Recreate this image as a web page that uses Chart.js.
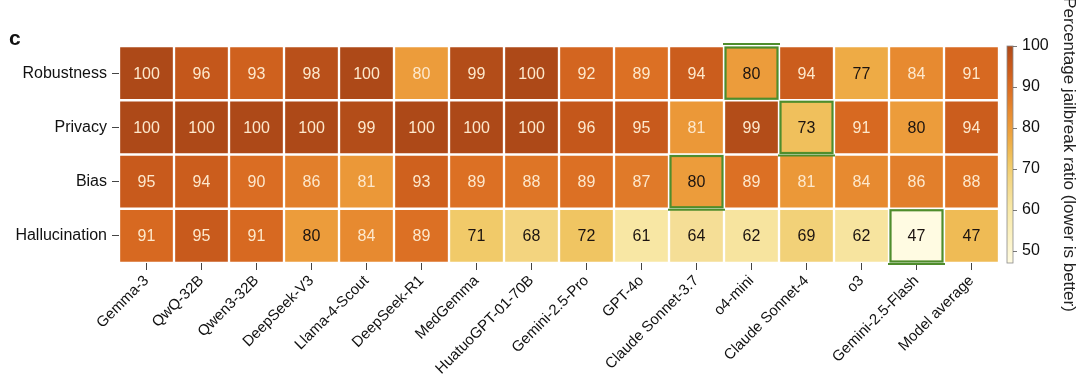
<!DOCTYPE html>
<html>
<head>
<meta charset="utf-8">
<script src="https://cdn.jsdelivr.net/npm/chart.js@4/dist/chart.umd.min.js"></script>
<style>
  html, body { margin: 0; padding: 0; background: #fff; }
  #wrap { position: relative; width: 1080px; height: 381px; }
</style>
</head>
<body>
<div id="wrap"><canvas id="heat" width="1080" height="381"></canvas></div>
<script>
// ── data ──────────────────────────────
const models = ['Gemma-3', 'QwQ-32B', 'Qwen3-32B', 'DeepSeek-V3', 'Llama-4-Scout', 'DeepSeek-R1',
    'MedGemma', 'HuatuoGPT-01-70B', 'Gemini-2.5-Pro', 'GPT-4o', 'Claude Sonnet-3.7', 'o4-mini',
    'Claude Sonnet-4', 'o3', 'Gemini-2.5-Flash', 'Model average'];

const rows = ['Robustness', 'Privacy', 'Bias', 'Hallucination'];

const robustness    = [100, 96, 93, 98, 100, 80, 99, 100, 92, 89, 94, 80, 94, 77, 84, 91];
const privacy       = [100, 100, 100, 100, 99, 100, 100, 100, 96, 95, 81, 99, 73, 91, 80, 94];
const bias          = [95, 94, 90, 86, 81, 93, 89, 88, 89, 87, 80, 89, 81, 84, 86, 88];
// last cell is coloured like ~74 (the real mean) but the figure prints "47"
const hallucination = [91, 95, 91, 80, 84, 89, 71, 68, 72, 61, 64, 62, 69, 62, 47, 74];
const printedLabel = { 'Hallucination|Model average': '47' };

const values = [robustness, privacy, bias, hallucination];

// cells boxed in green in the figure
const highlighted = [['Robustness', 'o4-mini'], ['Privacy', 'Claude Sonnet-4'],
    ['Bias', 'Claude Sonnet-3.7'], ['Hallucination', 'Gemini-2.5-Flash']];
// the one "80" printed in light text
const lightLabelCells = [['Robustness', 'DeepSeek-R1']];

const cbMin = 47, cbMax = 100;
const cbTicks = [50, 60, 70, 80, 90, 100];
const cbTitle = 'Percentage jailbreak ratio (lower is better)';

// ── colour map (sampled off the figure) ──
const stops = [
    [47, '#fffbe2'], [55, '#fbf0bd'], [61, '#f8e7a4'], [64, '#f5de96'], [68, '#f3d47f'],
    [71, '#f1ca69'], [74, '#efbb55'], [77, '#eeab45'], [80, '#ec9c3b'], [84, '#e78a30'],
    [86, '#e27f2b'], [89, '#dc7024'], [91, '#d76921'], [94, '#cb5d1d'], [96, '#c4571b'],
    [100, '#ad4918']
];

function hex2rgb(h) {
    return [parseInt(h.slice(1, 3), 16), parseInt(h.slice(3, 5), 16), parseInt(h.slice(5, 7), 16)];
}
function colorFor(v) {
    if (v <= stops[0][0]) return stops[0][1];
    for (let i = 1; i < stops.length; i++) {
        if (v <= stops[i][0]) {
            const [v0, c0] = stops[i - 1], [v1, c1] = stops[i];
            const t = (v - v0) / (v1 - v0);
            const a = hex2rgb(c0), b = hex2rgb(c1);
            const c = a.map((x, k) => Math.round(x + (b[k] - x) * t));
            return `rgb(${c[0]},${c[1]},${c[2]})`;
        }
    }
    return stops[stops.length - 1][1];
}

const FONT = "'Liberation Sans', Arial, sans-serif";

// stacked from the bottom, so the last row goes first
const datasets = rows.map((r, i) => ({
    label: r,
    data: models.map(() => 1),
    backgroundColor: values[i].map(colorFor),
    borderColor: '#ffffff',
    borderWidth: 1.5,
    borderSkipped: false,
    barPercentage: 1,
    categoryPercentage: 1
})).reverse();

function cellElement(chart, rowName, model) {
    const di = chart.data.datasets.findIndex(d => d.label === rowName);
    return chart.getDatasetMeta(di).data[models.indexOf(model)];
}

const heatPlugin = {
    id: 'heatExtras',
    afterDatasetsDraw(chart) {
        const ctx = chart.ctx;
        ctx.save();
        // cell numbers
        ctx.font = `16px ${FONT}`;
        ctx.textAlign = 'center';
        ctx.textBaseline = 'middle';
        chart.data.datasets.forEach((ds, di) => {
            const r = rows.indexOf(ds.label);
            chart.getDatasetMeta(di).data.forEach((el, j) => {
                const v = values[r][j];
                const key = ds.label + '|' + models[j];
                const txt = printedLabel[key] || String(v);
                const light = v > 80.5 || lightLabelCells.some(c => c[0] === ds.label && c[1] === models[j]);
                ctx.fillStyle = light ? '#fde8cc' : '#1c1410';
                ctx.fillText(txt, el.x, (el.y + el.base) / 2 + 1);
            });
        });
        // green boxes
        ctx.strokeStyle = '#4f8d2c';
        ctx.lineWidth = 2.2;
        highlighted.forEach(([r, m]) => {
            const el = cellElement(chart, r, m);
            const x0 = el.x - el.width / 2, y0 = Math.min(el.y, el.base), h = Math.abs(el.base - el.y);
            ctx.strokeRect(x0 + 1.5, y0 + 1.5, el.width - 3, h - 3);
            ctx.beginPath();
            if (r === 'Robustness') { ctx.moveTo(x0 - 1, y0 - 2); ctx.lineTo(x0 + el.width + 1, y0 - 2); }
            else { ctx.moveTo(x0 - 1, y0 + h + 1); ctx.lineTo(x0 + el.width + 1, y0 + h + 1); }
            ctx.stroke();
        });
        ctx.restore();
    },
    afterDraw(chart) {
        const ctx = chart.ctx;
        const sc = chart.scales.cb;
        const x = chart.chartArea.right + 8, w = 6;
        const yTop = sc.getPixelForValue(cbMax), yBot = sc.getPixelForValue(cbMin);
        ctx.save();
        const g = ctx.createLinearGradient(0, yBot, 0, yTop);
        stops.forEach(([v, c]) => g.addColorStop((v - cbMin) / (cbMax - cbMin), c));
        ctx.fillStyle = g;
        ctx.fillRect(x, yTop, w, yBot - yTop);
        ctx.strokeStyle = '#8a8a8a';
        ctx.lineWidth = 0.8;
        ctx.strokeRect(x, yTop, w, yBot - yTop);
        ctx.strokeStyle = '#555';
        cbTicks.forEach(t => {
            const y = Math.round(sc.getPixelForValue(t)) + 0.5;
            ctx.beginPath();
            ctx.moveTo(x + w, y);
            ctx.lineTo(x + w + 4, y);
            ctx.stroke();
        });
        // panel letter
        ctx.fillStyle = '#111';
        ctx.font = `bold 21px ${FONT}`;
        ctx.textAlign = 'left';
        ctx.textBaseline = 'alphabetic';
        ctx.fillText('c', 9, 45);
        ctx.restore();
    }
};

new Chart(document.getElementById('heat'), {
    type: 'bar',
    data: { labels: models, datasets },
    plugins: [heatPlugin],
    options: {
        responsive: false,
        animation: false,
        layout: { padding: { top: 46, left: 0, right: 0, bottom: 0 } },
        plugins: { legend: { display: false }, tooltip: { enabled: false } },
        scales: {
            x: {
                stacked: true,
                grid: { display: true, offset: false, drawOnChartArea: false, drawTicks: true, tickLength: 7, color: '#444' },
                border: { display: false },
                ticks: { color: '#111', font: { family: FONT, size: 15 }, minRotation: 45, maxRotation: 45, padding: 2 },
                afterFit(s) { s.height = 118; }
            },
            y: {
                stacked: true,
                min: 0, max: 4,
                grid: { display: true, drawOnChartArea: false, drawTicks: true, tickLength: 7, color: '#444' },
                border: { display: false },
                afterBuildTicks(s) { s.ticks = [0.5, 1.5, 2.5, 3.5].map(v => ({ value: v })); },
                ticks: {
                    color: '#111', font: { family: FONT, size: 16 }, padding: 5,
                    callback: v => rows[rows.length - 1 - Math.floor(v)]
                },
                afterFit(s) { s.width = 119; }
            },
            cb: {
                type: 'linear',
                position: 'right',
                min: cbMin, max: cbMax,
                grid: { display: false, drawTicks: false },
                border: { display: false },
                afterBuildTicks(s) { s.ticks = cbTicks.map(v => ({ value: v })); },
                ticks: { color: '#111', font: { family: FONT, size: 16 }, padding: 23 },
                title: { display: true, text: cbTitle, color: '#222', font: { family: FONT, size: 17 }, padding: { top: 1, bottom: 1 } },
                afterFit(s) { s.width = 81; }
            }
        }
    }
});
</script>
</body>
</html>
